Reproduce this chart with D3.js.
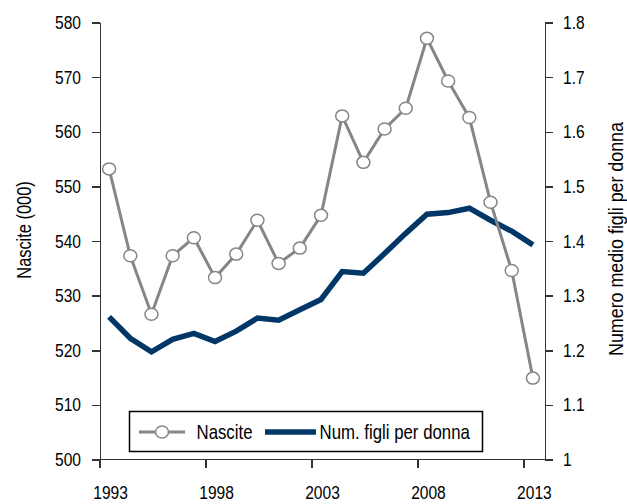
<!DOCTYPE html>
<html lang="it">
<head>
<meta charset="utf-8">
<script src="https://d3js.org/d3.v7.min.js"></script>
<style type="text/css">

body {
  margin: 0;
  background-color: #ffffff;
}

svg text {
  font-family: "Liberation Sans", Arial, sans-serif;
  fill: #000;
}

.axis path, .axis line {
  fill: none;
  stroke: #333;
  stroke-width: 1.5px;
  shape-rendering: crispEdges;
}

.axis text {
  font-size: 19px;
}

</style>
</head>
<body>
<script type="text/javascript">

// Chart data
var years = d3.range(1993, 2014);
var nascite = [553.2, 537.3, 526.6, 537.3, 540.6, 533.3, 537.6, 543.8, 535.9, 538.7,
               544.7, 562.9, 554.4, 560.5, 564.3, 577.1, 569.3, 562.6, 547.1, 534.6, 514.9];
var figli = [1.261, 1.222, 1.197, 1.220, 1.231, 1.216, 1.235, 1.259, 1.255, 1.274,
             1.293, 1.344, 1.341, 1.377, 1.414, 1.449, 1.452, 1.460, 1.438, 1.418, 1.393];
var xTickYears = [1993, 1998, 2003, 2008, 2013];
var leftTicks = [500, 510, 520, 530, 540, 550, 560, 570, 580];
var rightTicks = [1, 1.1, 1.2, 1.3, 1.4, 1.5, 1.6, 1.7, 1.8];
var seriesNames = ["Nascite", "Num. figli per donna"];

var width = 627;
var height = 504;

var plotLeft = 100, plotRight = 545, plotTop = 22.5, plotBottom = 459.5;

var grey = "#868686";
var navy = "#003767";

// no narrow font installed, so squeeze text horizontally
var squeeze = 0.82;
function narrow(sel, k) {
  k = k || squeeze;
  sel.each(function() {
    var t = d3.select(this);
    var xv = +t.attr("x") || 0;
    t.attr("x", xv / k);
    var tr = t.attr("transform") || "";
    t.attr("transform", tr + " scale(" + k + ",1)");
  });
}

var svg = d3.select("body")
  .append("svg")
  .attr("width", width)
  .attr("height", height);

// scales
var x = d3.scaleBand()
  .domain(years)
  .range([plotLeft, plotRight])
  .paddingInner(0)
  .paddingOuter(0);

var yLeft = d3.scaleLinear()
  .domain([500, 580])
  .range([plotBottom, plotTop]);

var yRight = d3.scaleLinear()
  .domain([1, 1.8])
  .range([plotBottom, plotTop]);

function xPos(year) {
  return x(year) + x.bandwidth() / 2 - 1.5;
}

// left axis
svg.append("g")
  .attr("class", "axis")
  .attr("transform", "translate(" + plotLeft + ",0)")
  .call(d3.axisLeft(yLeft).tickValues(leftTicks).tickSize(8).tickPadding(11).tickSizeOuter(0))
  .selectAll("text").call(narrow);

// right axis
svg.append("g")
  .attr("class", "axis")
  .attr("transform", "translate(" + plotRight + ",0)")
  .call(d3.axisRight(yRight).tickValues(rightTicks).tickSize(8).tickPadding(10).tickSizeOuter(0)
    .tickFormat(function(d) { return String(+d.toFixed(1)); }))
  .selectAll("text").call(narrow);

// bottom axis: ticks on category boundaries, labels on categories
var xAxisG = svg.append("g")
  .attr("class", "axis")
  .attr("transform", "translate(0," + plotBottom + ")");

xAxisG.append("path")
  .attr("d", "M" + plotLeft + ",0H" + plotRight);

xAxisG.selectAll("line.tick")
  .data(xTickYears)
  .enter()
  .append("line")
  .attr("class", "tick")
  .attr("x1", function(d) { return x(d); })
  .attr("x2", function(d) { return x(d); })
  .attr("y1", 0)
  .attr("y2", 8);

xAxisG.selectAll("text")
  .data(xTickYears)
  .enter()
  .append("text")
  .attr("x", function(d) { return x(d) + x.bandwidth() / 2; })
  .attr("y", 39.5)
  .attr("text-anchor", "middle")
  .text(function(d) { return d; })
  .call(narrow);

// axis titles
svg.append("text")
  .attr("transform", "translate(31,230) rotate(-90)")
  .attr("text-anchor", "middle")
  .style("font-size", "20px")
  .text("Nascite (000)")
  .call(narrow);

svg.append("text")
  .attr("transform", "translate(623,239) rotate(-90)")
  .attr("text-anchor", "middle")
  .style("font-size", "20.5px")
  .text("Numero medio figli per donna")
  .call(narrow, 0.87);

// lines
var lineLeft = d3.line()
  .x(function(d, i) { return xPos(years[i]); })
  .y(function(d) { return yLeft(d); });

var lineRight = d3.line()
  .x(function(d, i) { return xPos(years[i]); })
  .y(function(d) { return yRight(d); });

svg.append("path")
  .datum(figli)
  .attr("d", lineRight)
  .style("fill", "none")
  .style("stroke", navy)
  .style("stroke-width", 5.5);

svg.append("path")
  .datum(nascite)
  .attr("d", lineLeft)
  .style("fill", "none")
  .style("stroke", grey)
  .style("stroke-width", 3);

svg.selectAll("ellipse.marker")
  .data(nascite)
  .enter()
  .append("ellipse")
  .attr("class", "marker")
  .attr("cx", function(d, i) { return xPos(years[i]); })
  .attr("cy", function(d) { return yLeft(d); })
  .attr("rx", 6.5)
  .attr("ry", 6)
  .style("fill", "#fff")
  .style("stroke", grey)
  .style("stroke-width", 1.5);

// legend
var legend = svg.append("g");

legend.append("rect")
  .attr("x", 129.5)
  .attr("y", 411.5)
  .attr("width", 353)
  .attr("height", 40)
  .style("fill", "#fff")
  .style("stroke", "#000")
  .style("stroke-width", 1.5);

legend.append("line")
  .attr("x1", 139).attr("x2", 185)
  .attr("y1", 432).attr("y2", 432)
  .style("stroke", grey)
  .style("stroke-width", 3);

legend.append("ellipse")
  .attr("cx", 162).attr("cy", 432)
  .attr("rx", 6.5).attr("ry", 6)
  .style("fill", "#fff")
  .style("stroke", grey)
  .style("stroke-width", 1.5);

legend.append("text")
  .attr("x", 196.5).attr("y", 439.5)
  .style("font-size", "20.5px")
  .text(seriesNames[0])
  .call(narrow);

legend.append("line")
  .attr("x1", 265).attr("x2", 316)
  .attr("y1", 432).attr("y2", 432)
  .style("stroke", navy)
  .style("stroke-width", 5.5);

legend.append("text")
  .attr("x", 319.5).attr("y", 439.5)
  .style("font-size", "20.5px")
  .text(seriesNames[1])
  .call(narrow);

</script>
</body>
</html>
